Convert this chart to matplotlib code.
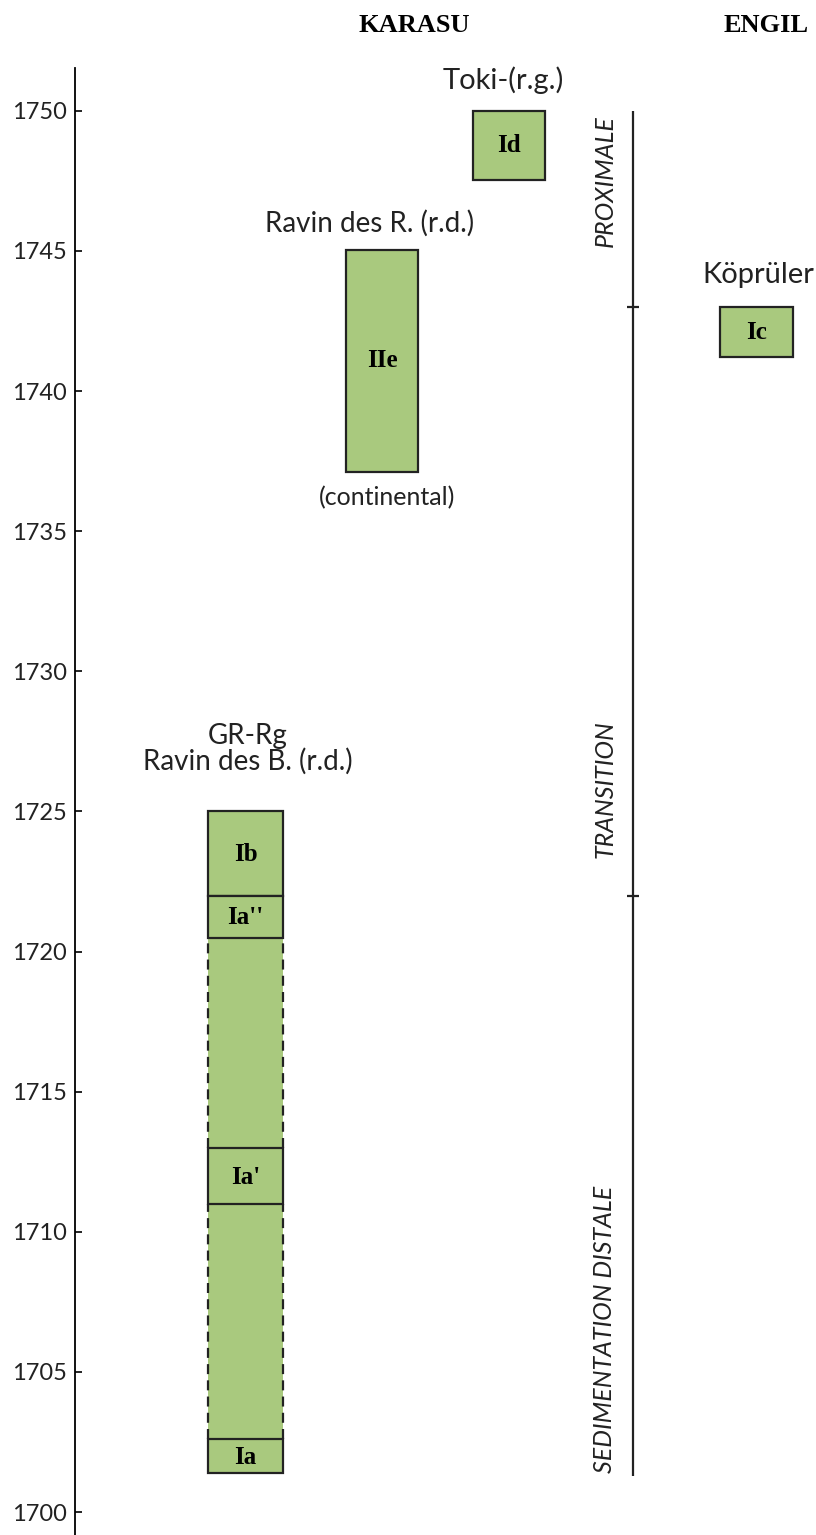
import matplotlib.pyplot as plt

# data (years)
years_ticks = [1700, 1705, 1710, 1715, 1720, 1725, 1730, 1735, 1740, 1745, 1750]

# single boxes: label, bottom, top
single_names = ["Id", "IIe", "Ic"]
single_bottom = [1747.55, 1737.1, 1741.2]
single_top = [1750.0, 1745.05, 1743.0]

# composite column GR-Rg (Ravin des B.)
seg_names = ["Ib", "Ia''", "Ia'", "Ia"]
seg_bottom = [1722.0, 1720.5, 1711.0, 1701.4]
seg_top = [1725.0, 1722.0, 1713.0, 1702.6]
gap_bottom = [1713.0, 1702.6]
gap_top = [1720.5, 1711.0]

# depositional zones
zone_names = ["PROXIMALE", "TRANSITION", "SEDIMENTATION DISTALE"]
zone_limits = [1750.0, 1743.0, 1722.0, 1701.3]
zone_label_y = [1747.5, 1725.8, 1706.5]

green = '#a9c97e'
sans = 'Lato'
serif = 'Liberation Serif'

fig = plt.figure(figsize=(8.16, 15.35), dpi=100)
ax = fig.add_axes([75/816, 0, 1 - 75/816, 1 - 68/1535])
ax.set_xlim(75, 816)
ax.set_ylim(1699.18, 1751.53)

for s in ['top', 'right', 'bottom']:
    ax.spines[s].set_visible(False)
ax.spines['left'].set_linewidth(1.3)
ax.set_xticks([])
ax.set_yticks(years_ticks)
ax.tick_params(axis='y', direction='in', length=5, width=1.2, pad=6, labelsize=17)
for lab in ax.get_yticklabels():
    lab.set_fontfamily(sans)
    lab.set_color('#222222')

# single boxes
box_x = [509, 382, 756.5]
box_w = [72, 72, 73]
for name, b, t, x, w in zip(single_names, single_bottom, single_top, box_x, box_w):
    ax.bar(x, t - b, width=w, bottom=b, color=green, edgecolor='#222222', linewidth=1.6)
    ax.text(x, (b + t) / 2, name, ha='center', va='center', fontsize=18,
            fontweight='bold', family=serif)

# composite column
col_x, col_w = 245.5, 75
for b, t in zip(gap_bottom, gap_top):
    ax.bar(col_x, t - b, width=col_w, bottom=b, color=green, linewidth=0)
    ax.vlines([col_x - col_w / 2, col_x + col_w / 2], b, t, colors='#222222',
              linewidth=1.6, linestyles=(0, (4.5, 2.8)))
for name, b, t in zip(seg_names, seg_bottom, seg_top):
    ax.bar(col_x, t - b, width=col_w, bottom=b, color=green, edgecolor='#222222', linewidth=1.6)
    ax.text(col_x, (b + t) / 2 - 0.05, name, ha='center', va='center', fontsize=18,
            fontweight='bold', family=serif)

# site labels
ax.text(503, 1751.1, "Toki-(r.g.)", ha='center', va='center', fontsize=21, family=sans, color='#222222')
ax.text(370, 1746.0, "Ravin des R. (r.d.)", ha='center', va='center', fontsize=20, family=sans, color='#222222')
ax.text(387, 1736.2, "(continental)", ha='center', va='center', fontsize=18, family=sans, color='#222222')
ax.text(758, 1744.15, "Köprüler", ha='center', va='center', fontsize=21, family=sans, color='#222222', clip_on=False)
ax.text(248, 1727.7, "GR-Rg", ha='center', va='center', fontsize=20, family=sans, color='#222222')
ax.text(248, 1726.8, "Ravin des B. (r.d.)", ha='center', va='center', fontsize=20, family=sans, color='#222222')

# zone scale
ax.vlines(633, zone_limits[-1], zone_limits[0], colors='#222222', linewidth=1.6)
ax.hlines(zone_limits[1:3], 627, 639, colors='#222222', linewidth=1.6)
for name, y in zip(zone_names, zone_label_y):
    ax.text(605, y, name, rotation=90, ha='center', va='center',
            fontsize=18, style='italic', family=sans, color='#222222')

fig.text(414/816, 1 - 25/1535, "KARASU", ha='center', va='center', fontsize=19,
         fontweight='bold', family=serif)
fig.text(766/816, 1 - 25/1535, "ENGIL", ha='center', va='center', fontsize=19,
         fontweight='bold', family=serif)

fig.savefig('out.png', dpi=100)
